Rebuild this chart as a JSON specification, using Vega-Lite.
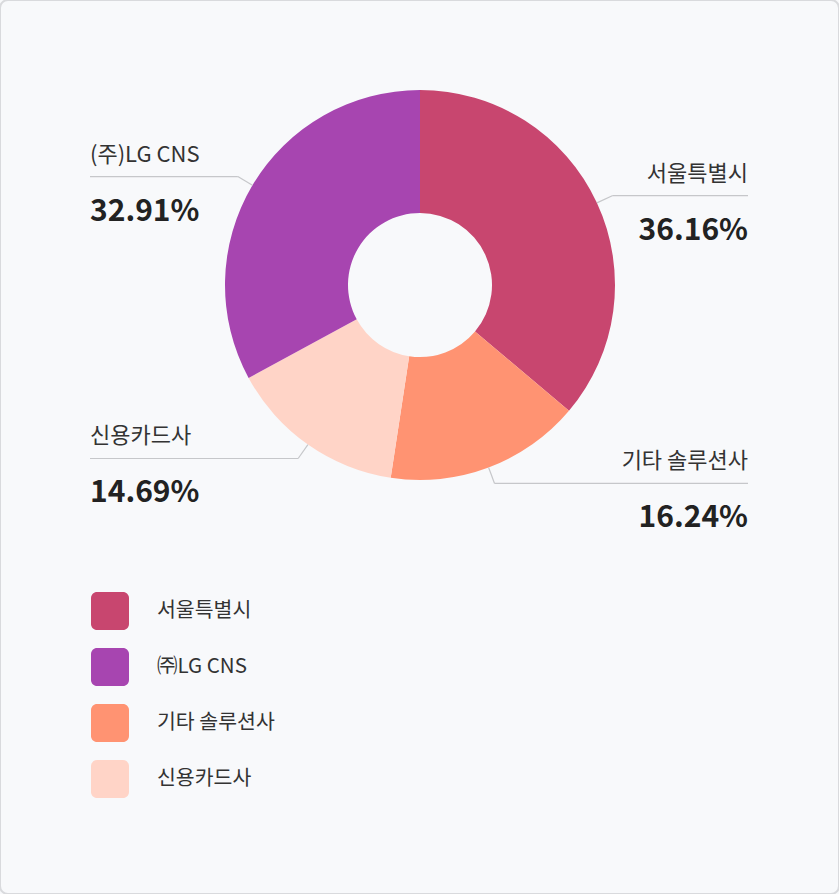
{
  "$schema": "https://vega.github.io/schema/vega-lite/v6.json",
  "width": 839,
  "height": 894,
  "padding": 0,
  "autosize": {"type": "fit", "contains": "padding"},
  "background": "#f8f9fb",
  "config": {
    "view": {"stroke": "#d9dadd", "strokeWidth": 2, "cornerRadius": 8},
    "font": "Noto Sans CJK KR"
  },
  "data": {
    "values": [
      {"company": "서울특별시", "share": 36.16},
      {"company": "기타 솔루션사", "share": 16.24},
      {"company": "신용카드사", "share": 14.69},
      {"company": "(주)LG CNS", "share": 32.91}
    ]
  },
  "transform": [
    {"window": [{"op": "row_number", "as": "idx"}]},
    {"window": [{"op": "sum", "field": "share", "as": "cum"}], "sort": [{"field": "idx"}], "frame": [null, 0]},
    {"calculate": "(datum.cum - datum.share / 2) / 100 * 2 * PI", "as": "mid"},
    {"calculate": "sin(datum.mid) > 0 ? 1 : -1", "as": "side"},
    {"calculate": "195 * sin(datum.mid)", "as": "ax"},
    {"calculate": "195 * cos(datum.mid)", "as": "ay"},
    {"calculate": "212 * sin(datum.mid)", "as": "ex"},
    {"calculate": "212 * cos(datum.mid)", "as": "ey"},
    {"calculate": "datum.side > 0 ? 328 : -330", "as": "lx"},
    {"calculate": "format(datum.share, '.2f') + '%'", "as": "pct"}
  ],
  "layer": [
    {
      "mark": {"type": "arc", "innerRadius": 72, "outerRadius": 195, "strokeWidth": 0},
      "encoding": {
        "x": {"datum": 0, "type": "quantitative", "axis": null, "scale": {"domain": [-420, 419], "nice": false, "zero": false}},
        "y": {"datum": 0, "type": "quantitative", "axis": null, "scale": {"domain": [-609, 285], "nice": false, "zero": false}},
        "theta": {"field": "share", "type": "quantitative", "stack": true},
        "order": {"field": "idx", "type": "quantitative"},
        "color": {
          "field": "company",
          "type": "nominal",
          "scale": {
            "domain": ["서울특별시", "(주)LG CNS", "기타 솔루션사", "신용카드사"],
            "range": ["#c8466f", "#a745b0", "#ff9372", "#ffd4c7"]
          },
          "legend": {
            "orient": "none",
            "legendX": 91,
            "legendY": 592,
            "title": null,
            "padding": 0,
            "symbolType": "M-1,-0.68A0.32,0.32 0 0 1 -0.68,-1L0.68,-1A0.32,0.32 0 0 1 1,-0.68L1,0.68A0.32,0.32 0 0 1 0.68,1L-0.68,1A0.32,0.32 0 0 1 -1,0.68Z",
            "symbolSize": 1444,
            "symbolStrokeWidth": 0,
            "symbolOpacity": 1,
            "rowPadding": 18,
            "labelOffset": 28,
            "labelFontSize": 20.5,
            "labelFont": "Noto Sans CJK KR",
            "labelColor": "#333333",
            "labelLimit": 300,
            "labelExpr": "datum.label == '(주)LG CNS' ? '㈜LG CNS' : datum.label"
          }
        }
      }
    },
    {
      "mark": {"type": "rule", "color": "#c6c7ca", "strokeWidth": 1.2},
      "encoding": {
        "x": {"field": "ax", "type": "quantitative", "axis": null, "scale": {"domain": [-420, 419], "nice": false, "zero": false}},
        "y": {"field": "ay", "type": "quantitative", "axis": null, "scale": {"domain": [-609, 285], "nice": false, "zero": false}},
        "x2": {"field": "ex"},
        "y2": {"field": "ey"}
      }
    },
    {
      "mark": {"type": "rule", "color": "#c6c7ca", "strokeWidth": 1.2},
      "encoding": {
        "x": {"field": "ex", "type": "quantitative", "axis": null, "scale": {"domain": [-420, 419], "nice": false, "zero": false}},
        "y": {"field": "ey", "type": "quantitative", "axis": null, "scale": {"domain": [-609, 285], "nice": false, "zero": false}},
        "x2": {"field": "lx"}
      }
    },
    {
      "mark": {
        "type": "text",
        "fontSize": 22,
        "color": "#333333",
        "baseline": "alphabetic",
        "dy": -15,
        "align": {"expr": "datum.side > 0 ? 'right' : 'left'"}
      },
      "encoding": {
        "x": {"field": "lx", "type": "quantitative", "axis": null, "scale": {"domain": [-420, 419], "nice": false, "zero": false}},
        "y": {"field": "ey", "type": "quantitative", "axis": null, "scale": {"domain": [-609, 285], "nice": false, "zero": false}},
        "text": {"field": "company"}
      }
    },
    {
      "mark": {
        "type": "text",
        "fontSize": 30,
        "fontWeight": "bold",
        "color": "#222222",
        "baseline": "alphabetic",
        "dy": 44,
        "align": {"expr": "datum.side > 0 ? 'right' : 'left'"}
      },
      "encoding": {
        "x": {"field": "lx", "type": "quantitative", "axis": null, "scale": {"domain": [-420, 419], "nice": false, "zero": false}},
        "y": {"field": "ey", "type": "quantitative", "axis": null, "scale": {"domain": [-609, 285], "nice": false, "zero": false}},
        "text": {"field": "pct"}
      }
    }
  ]
}
